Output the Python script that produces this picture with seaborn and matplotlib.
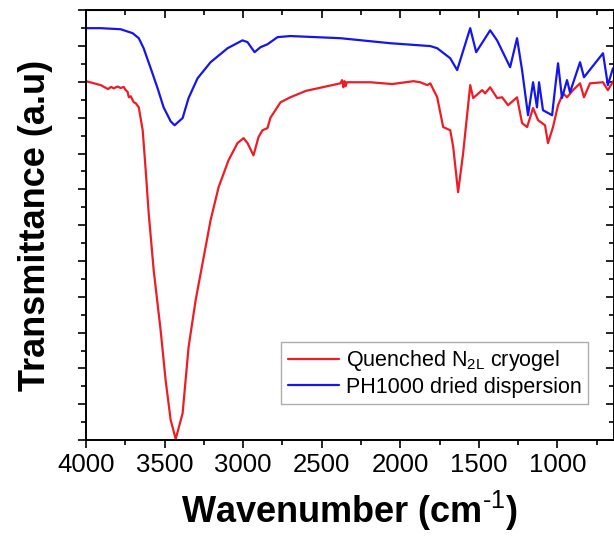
import pandas as pd
import numpy as np
import seaborn as sns
import matplotlib.pyplot as plt
from matplotlib.ticker import MultipleLocator

# spectra (wavenumber in cm-1, transmittance in arbitrary units)
red_label = "Quenched N$_{\\mathrm{2L}}$ cryogel"
blue_label = "PH1000 dried dispersion"

red_wn = [4000, 3906, 3860, 3840, 3823, 3800, 3779, 3760, 3747, 3735, 3727, 3715, 3696,
          3684, 3664, 3639, 3620, 3601, 3569, 3525, 3493, 3461, 3429, 3385, 3347, 3302,
          3258, 3207, 3156, 3093, 3036, 2997, 2972, 2934, 2902, 2877, 2845, 2826, 2762,
          2700, 2600, 2527, 2381, 2370, 2362, 2355, 2348, 2340, 2299, 2191, 2051,
          1917, 1873, 1828, 1809, 1765, 1727, 1682, 1663, 1632, 1600, 1555, 1536, 1479,
          1460, 1428, 1384, 1352, 1314, 1257, 1225, 1193, 1155, 1123, 1079, 1060, 1028,
          996, 964, 939, 901, 856, 831, 793, 710, 679, 640]
red_tr = [10.02, 9.91, 9.80, 9.86, 9.82, 9.87, 9.83, 9.86, 9.77, 9.72, 9.57, 9.60, 9.43,
          9.41, 9.29, 8.65, 7.54, 6.34, 4.74, 3.07, 1.67, 0.56, 0.03, 0.75, 2.60, 3.91,
          4.94, 6.14, 7.06, 7.81, 8.29, 8.43, 8.29, 7.95, 8.46, 8.65, 8.71, 9.00, 9.43,
          9.57, 9.75, 9.82, 9.96, 10.05, 9.85, 10.02, 9.88, 9.99, 9.99, 9.99, 9.94,
          10.02, 9.99, 9.91, 9.96, 9.57, 8.74, 8.65, 8.18, 6.92, 8.01, 9.91, 9.55, 9.77,
          9.68, 9.85, 9.55, 9.57, 9.35, 9.57, 8.85, 8.74, 9.27, 8.93, 8.79, 8.29, 8.74,
          9.35, 9.68, 9.57, 9.77, 9.96, 9.57, 9.96, 9.99, 9.77, 10.05]

blue_wn = [4000, 3906, 3779, 3703, 3664, 3633, 3588, 3544, 3506, 3461, 3436, 3385, 3347,
           3290, 3207, 3099, 3004, 2972, 2927, 2889, 2845, 2781, 2699, 2381, 2064, 1809,
           1765, 1682, 1638, 1555, 1517, 1428, 1384, 1301, 1257, 1225, 1187, 1155, 1130,
           1117, 1092, 1034, 1015, 996, 971, 939, 920, 856, 831, 710, 679, 647]
blue_tr = [11.50, 11.50, 11.47, 11.36, 11.22, 10.94, 10.38, 9.82, 9.29, 8.90, 8.79, 8.99,
           9.55, 10.10, 10.55, 10.94, 11.16, 11.11, 10.83, 10.97, 11.05, 11.25, 11.28,
           11.22, 11.08, 11.00, 10.94, 10.66, 10.33, 11.50, 10.83, 11.44, 11.16, 10.41,
           11.22, 10.33, 9.07, 9.99, 9.29, 9.99, 9.21, 9.07, 9.82, 10.52, 9.55, 10.05,
           9.71, 10.55, 10.13, 10.80, 9.91, 10.38]

df = pd.concat([
    pd.DataFrame({"wn": red_wn, "tr": red_tr, "sample": red_label}),
    pd.DataFrame({"wn": blue_wn, "tr": blue_tr, "sample": blue_label}),
])

sns.set_style("ticks")
plt.rcParams["font.family"] = ["Liberation Sans", "DejaVu Sans"]
plt.rcParams["mathtext.fontset"] = "custom"
plt.rcParams["mathtext.rm"] = "Liberation Sans"
plt.rcParams["mathtext.it"] = "Liberation Sans:italic"
plt.rcParams["mathtext.bf"] = "Liberation Sans:bold"
for key in ["text.color", "axes.labelcolor", "xtick.color", "ytick.color", "axes.edgecolor"]:
    plt.rcParams[key] = "black"

fig = plt.figure(figsize=(6.14, 5.4), dpi=100)
ax = fig.add_axes([0.140, 0.185, 0.860, 0.796])

sns.lineplot(data=df, x="wn", y="tr", hue="sample", hue_order=[red_label, blue_label],
             palette={red_label: "#ee1c24", blue_label: "#1515ee"},
             estimator=None, linewidth=1.6, ax=ax)

ax.set_xlim(4000, 640)
ax.set_ylim(0, 12)
ax.xaxis.set_major_locator(MultipleLocator(500))
ax.xaxis.set_minor_locator(MultipleLocator(250))
ax.yaxis.set_major_locator(MultipleLocator(1))
ax.yaxis.set_minor_locator(MultipleLocator(0.5))
ax.set_yticklabels([])
ax.tick_params(which="both", direction="out", width=1.2, labelsize=18.5, top=False, right=False)
ax.tick_params(which="major", length=6)
ax.tick_params(which="minor", length=3.5)

secx = ax.secondary_xaxis("top")
secx.xaxis.set_major_locator(MultipleLocator(500))
secx.xaxis.set_minor_locator(MultipleLocator(250))
secx.tick_params(which="both", direction="in", labeltop=False, width=1.2)
secx.tick_params(which="major", length=6)
secx.tick_params(which="minor", length=3.5)
secy = ax.secondary_yaxis("right")
secy.yaxis.set_major_locator(MultipleLocator(1))
secy.yaxis.set_minor_locator(MultipleLocator(0.5))
secy.tick_params(which="both", direction="in", labelright=False, width=1.2)
secy.tick_params(which="major", length=6)
secy.tick_params(which="minor", length=3.5)

for sp in ax.spines.values():
    sp.set_visible(True)
    sp.set_linewidth(1.4)
    sp.set_color("black")

ax.set_xlabel("Wavenumber (cm$^{\\mathrm{\\text{-}1}}$)", fontsize=26, fontweight="bold", labelpad=8)
ax.set_ylabel("Transmittance (a.u)", fontsize=26, fontweight="bold", labelpad=14)

leg = ax.legend(loc="lower right", bbox_to_anchor=(0.951, 0.084), borderaxespad=0,
                fontsize=15.5, frameon=True, fancybox=False, handlelength=2.4,
                handletextpad=0.3, borderpad=0.3, labelspacing=0.15)
leg.get_frame().set_edgecolor("#999999")
leg.get_frame().set_linewidth(1.0)

plt.savefig("out.png", dpi=100)
